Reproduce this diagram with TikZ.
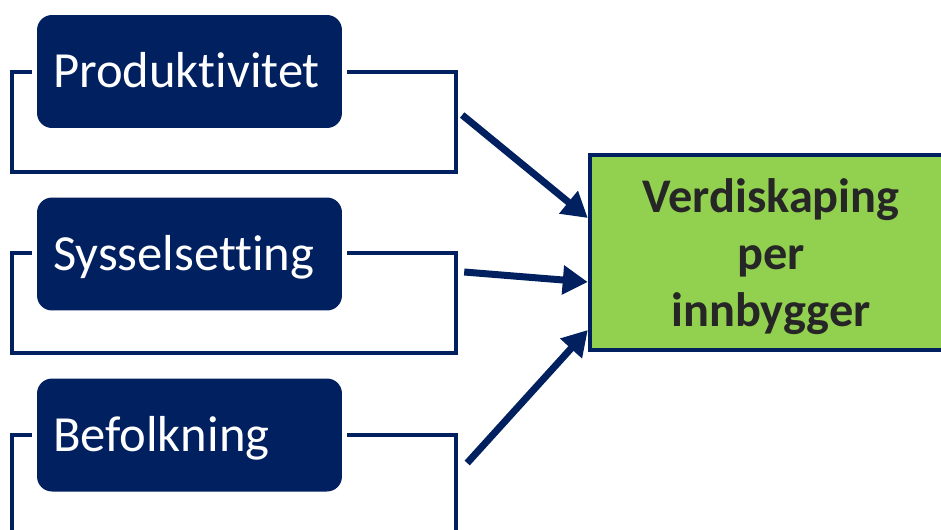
\documentclass[tikz,border=0pt]{standalone}
\usepackage{fontspec}
\setmainfont{Carlito}[Ligatures={NoCommon,NoRequired,NoContextual}]
\usepackage{tikz}
\usetikzlibrary{arrows.meta,calc}
\definecolor{navy}{RGB}{0,32,96}
\definecolor{leafgreen}{RGB}{146,208,80}
\definecolor{darktext}{RGB}{38,38,38}
\tikzset{
  ramme/.style={
    rectangle,
    draw=navy, line width=0.09cm,
    fill=white,
    minimum width=8.88cm,
    minimum height=2cm,
    inner sep=0pt},
  faktor/.style={
    rectangle,
    rounded corners=0.3cm,
    fill=navy,
    preaction={draw=white, line width=0.2cm},
    minimum width=6.1cm,
    minimum height=2.26cm,
    inner xsep=0.32cm, inner ysep=0pt,
    text width=5.46cm,
    text height=0.64cm, text depth=0pt,
    align=left,
    text=white,
    font=\fontsize{28.8}{34}\selectfont},
  resultat/.style={
    rectangle,
    draw=navy, line width=0.09cm,
    fill=leafgreen,
    minimum width=7.24cm,
    minimum height=3.9cm,
    text depth=0pt,
    align=center,
    text=darktext,
    font=\fontsize{27.5}{32.5}\selectfont\bfseries},
  pil/.style={draw=navy, line width=0.14cm, -{Triangle[length=0.5cm,width=0.56cm]}},
}
\begin{document}
\begin{tikzpicture}[x=0.02cm, y=-0.02cm]
\useasboundingbox (0,0) rectangle (941,529);
\foreach \i/\navn/\ly/\fy in {1/Produktivitet/71.5/122, 2/Sysselsetting/254/303, 3/Befolkning/435/485}{
    \node[ramme] (f\i) at (234,\fy) {};
    \node[faktor] (l\i) at (189.5,\ly) {\navn};
}
\node[resultat] (res) at (771,252.5) {Verdiskaping\\per\\innbygger};
% piler inn mot resultatet
\draw[pil] ($(f1.east)+(4,-7)$) -- ($(res.west)+(0,-34.5)$);
\draw[pil] ($(f2.east)+(6,-31)$) -- ($(res.west)+(0,29.5)$);
\draw[pil] ($(f3.east)+(9,-22)$) -- ($(res.west)+(0,77.5)$);
\end{tikzpicture}
\end{document}
